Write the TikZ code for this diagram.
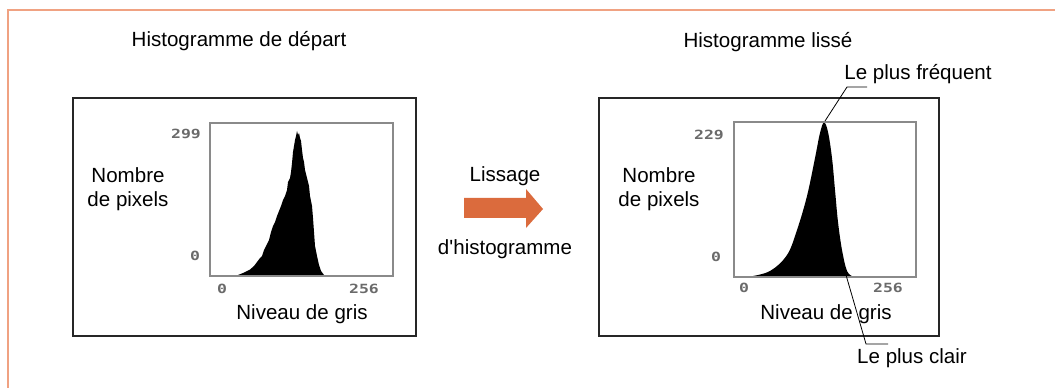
\documentclass[tikz,border=0pt]{standalone}
\usepackage{fontspec}
\setmainfont{Liberation Sans}
\newfontfamily\pixfont{DejaVu Sans Mono}
\definecolor{frameorange}{HTML}{F0A282}
\definecolor{arroworange}{HTML}{DB6B3D}
\definecolor{axisgray}{HTML}{8A8A8A}
\definecolor{ticklab}{HTML}{6A6A6A}
\tikzset{
  lbl/.style={inner sep=0pt, font=\fontsize{15.4}{18}\selectfont},
  pix/.style={inner sep=0pt, text=ticklab, font=\pixfont\bfseries\fontsize{9.5}{10}\selectfont, xscale=1.3},
  outerbox/.style={draw=black!85, line width=0.8pt},
  plotbox/.style={draw=axisgray, line width=1.1pt},
  leader/.style={draw=black, line width=0.6pt},
}
\begin{document}
\begin{tikzpicture}[x=0.75pt,y=-0.75pt]
\useasboundingbox (0,0) rectangle (1055,388);
% frame
\draw[frameorange, line width=1.5pt] (8,400) -- (8,10) -- (1060,10);
% titles
\node[lbl] (t1) at (239,41) {Histogramme de départ};
\node[lbl] (t2) at (768,42) {Histogramme lissé};
% outer boxes
\draw[outerbox] (73,98) rectangle (416,336);
\draw[outerbox] (599,98) rectangle (939,336);
% left histogram (rough)
\fill[black] (226,276) -- (232,275.5) -- (238,275) -- (243,273) -- (247,271) -- (250,269.5) -- (254,266) -- (257,262) -- (260,258) -- (262,256) -- (264,250) -- (267,244) -- (269,240) -- (271,232) -- (273,226) -- (275,222) -- (277,216) -- (279,211) -- (281,206) -- (283,200) -- (285,196) -- (287,190) -- (288,182) -- (290,178) -- (291,172) -- (292,163) -- (293,152) -- (294,146) -- (295,140) -- (296,136) -- (297,131) -- (298,135) -- (299,133) -- (300,138) -- (301,141) -- (302,150) -- (303,158) -- (304,162) -- (305,170) -- (307,178) -- (309,186) -- (310,196) -- (312,206) -- (313,218) -- (314,232) -- (315,246) -- (317,256) -- (319,265) -- (321,271) -- (324,275) -- (328,276) -- cycle;
% right histogram (smooth)
\fill[black] plot[smooth, tension=0.6] coordinates {(750,276.5) (770,271) (787,255) (797,230) (807,196) (815,158) (820,133) (824,122.5) (828,132) (832,158) (835,190) (838,222) (842,250) (847,271) (853,276.5)} -- cycle;
% plot frames
\node[plotbox, inner sep=0pt, minimum width=183*0.75pt, minimum height=153*0.75pt] (p1) at (301.5,199.5) {};
\node[plotbox, inner sep=0pt, minimum width=182*0.75pt, minimum height=155*0.75pt] (p2) at (825,199.5) {};
% tick labels
\node[pix] (l1max) at (186,134) {299};
\node[pix] (l1zero) at (195,256) {0};
\node[pix] (l1x0) at (222,289) {0};
\node[pix] (l1x256) at (364,289) {256};
\node[pix] (l2max) at (709,135) {229};
\node[pix] (l2zero) at (716,257) {0};
\node[pix] (l2x0) at (744,288) {0};
\node[pix] (l2x256) at (888,288) {256};
% axis labels
\node[lbl, align=center] (y1) at (128,189) {Nombre\\de pixels};
\node[lbl, align=center] (y2) at (659,189) {Nombre\\de pixels};
\node[lbl] (x1) at (302,314) {Niveau de gris};
\node[lbl] (x2) at (826,314) {Niveau de gris};
% arrow
\node[lbl] (lis) at (505,176) {Lissage};
\node[lbl] (dhist) at (505,249) {d\textquotesingle histogramme};
\fill[arroworange] (464,198) -- (526,198) -- (526,189) -- (543,209) -- (526,228) -- (526,218) -- (464,218) -- cycle;
% annotations
\node[lbl] (freq) at (918,74) {Le plus fréquent};
\node[lbl] (clair) at (912,358) {Le plus clair};
\coordinate (peak) at (825,121);
\coordinate (fk) at (847,87);
\coordinate (fe) at (867,87);
\coordinate (tail) at (846,275);
\coordinate (ck) at (866,344);
\coordinate (ce) at (888,344);
\draw[leader] (peak) -- (fk) -- (fe);
\draw[leader] (tail) -- (ck) -- (ce);
\end{tikzpicture}
\end{document}
